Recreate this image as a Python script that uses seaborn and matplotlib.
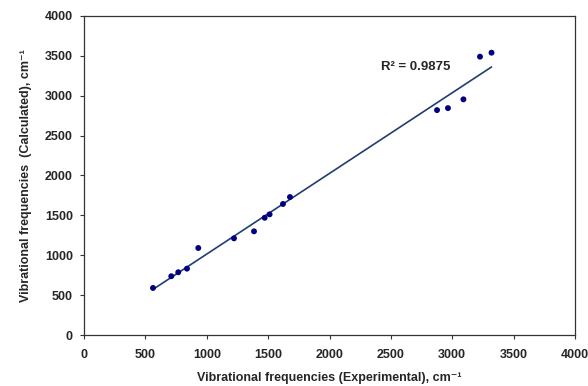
import numpy as np
import matplotlib
matplotlib.use("Agg")
import matplotlib.pyplot as plt
import pandas as pd
import seaborn as sns

sns.set_style("white")
plt.rcParams['font.family'] = ['Liberation Sans', 'DejaVu Sans']

# experimental vs calculated frequencies, cm-1
experimental = [562, 711, 768, 839, 931, 1222, 1385, 1472, 1512, 1621, 1678,
                2876, 2965, 3091, 3226, 3320]
calculated = [590, 737, 787, 832, 1091, 1212, 1300, 1470, 1513, 1643, 1730,
              2820, 2845, 2955, 3490, 3540]
r2_label = "R\u00b2 = 0.9875"

df = pd.DataFrame({"exp": experimental, "calc": calculated})

fig = plt.figure(figsize=(5.88, 3.86), dpi=100)
ax = fig.add_axes([84 / 588, 1 - 335 / 386, 491 / 588, 319 / 386])

sns.regplot(data=df, x="exp", y="calc", scatter=False, ci=None, ax=ax,
            line_kws={"color": "#1f3e70", "lw": 1.2})
sns.scatterplot(data=df, x="exp", y="calc", ax=ax, color="#000080",
                s=18, edgecolor="none", zorder=3)

ax.text(0.605, 0.84, r2_label, transform=ax.transAxes, fontsize=9.5,
        fontweight="bold", va="center", ha="left")

ax.set_xlim(0, 4000)
ax.set_ylim(0, 4000)
ax.set_xticks(np.arange(0, 4001, 500))
ax.set_yticks(np.arange(0, 4001, 500))
ax.tick_params(axis="both", which="major", direction="out", length=3,
               width=0.8, color="#333333", labelsize=9, bottom=True, left=True)
ax.tick_params(axis="x", pad=7)
ax.tick_params(axis="y", pad=5)
for lab in ax.get_xticklabels() + ax.get_yticklabels():
    lab.set_fontweight("bold")
for sp in ax.spines.values():
    sp.set_color("#333333")
    sp.set_linewidth(0.9)

ax.set_xlabel("Vibrational frequencies (Experimental), cm\u207b\u00b9",
              fontsize=9, fontweight="bold", labelpad=8)
ax.set_ylabel("Vibrational frequencies  (Calculated), cm\u207b\u00b9",
              fontsize=9, fontweight="bold", labelpad=9)

fig.savefig("out.png", dpi=100)
